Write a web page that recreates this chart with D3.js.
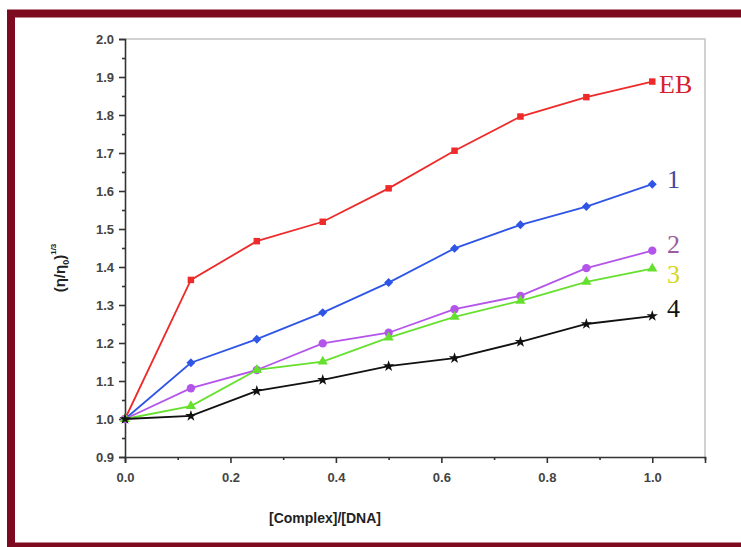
<!DOCTYPE html>
<html>
<head>
<meta charset="utf-8">
<script src="https://cdn.jsdelivr.net/npm/d3@7/dist/d3.min.js"></script>
<style>
  body { margin: 0; background: #fff; }
</style>
</head>
<body>
<div id="chart"></div>
<script>
// data
const ratio = [0, 0.125, 0.25, 0.375, 0.5, 0.625, 0.75, 0.875, 1.0]
const ebValues = [1.0, 1.366, 1.468, 1.519, 1.607, 1.706, 1.796, 1.847, 1.888]
const c1Values = [1.0, 1.148, 1.210, 1.280, 1.359, 1.449, 1.511, 1.559, 1.618]
const c2Values = [1.0, 1.081, 1.129, 1.199, 1.227, 1.289, 1.324, 1.397, 1.443]
const c3Values = [1.0, 1.034, 1.129, 1.151, 1.214, 1.269, 1.311, 1.361, 1.396]
const c4Values = [1.0, 1.008, 1.074, 1.103, 1.139, 1.160, 1.203, 1.250, 1.271]
const seriesNames = ['EB', '1', '2', '3', '4']
const yTicks = [0.9, 1.0, 1.1, 1.2, 1.3, 1.4, 1.5, 1.6, 1.7, 1.8, 1.9, 2.0]
const xTicks = [0.0, 0.2, 0.4, 0.6, 0.8, 1.0]

const series = [
  { name: seriesNames[0], values: ebValues, color: '#ee2a2a', label: '#d4202e', symbol: d3.symbolSquare, size: 42, rot: 0 },
  { name: seriesNames[1], values: c1Values, color: '#2f55e6', label: '#3d4aa0', symbol: d3.symbolSquare, size: 40, rot: 45 },
  { name: seriesNames[2], values: c2Values, color: '#b455ea', label: '#9a5c9e', symbol: d3.symbolCircle, size: 55, rot: 0 },
  { name: seriesNames[3], values: c3Values, color: '#66e02e', label: '#d6d624', symbol: d3.symbolTriangle, size: 45, rot: 0 },
  { name: seriesNames[4], values: c4Values, color: '#111111', label: '#111111', symbol: d3.symbolStar, size: 40, rot: 0 }
]

const width = 741, height = 547
const plot = { left: 125, right: 705, top: 39, bottom: 457 }

const svg = d3.select('#chart')
  .append('svg')
  .attr('width', width)
  .attr('height', height)

// dark red frame
svg.append('rect')
  .attr('x', 11).attr('y', 13.5)
  .attr('width', 800).attr('height', 533)
  .attr('fill', '#fff')
  .attr('stroke', '#7d0a1e')
  .attr('stroke-width', 8)

const x = d3.scaleLinear().domain([0, 1.1]).range([plot.left, plot.right])
const y = d3.scaleLinear().domain([0.9, 2.0]).range([plot.bottom, plot.top])

// light box on top and right
svg.append('path')
  .attr('d', `M${plot.left},${plot.top}H${plot.right}V${plot.bottom}`)
  .attr('fill', 'none')
  .attr('stroke', '#c4c4c4')
  .attr('stroke-width', 1.5)

// y axis
const yAxis = svg.append('g')
  .attr('transform', `translate(${plot.left},0)`)
  .call(d3.axisLeft(y).tickValues(yTicks).tickFormat(d3.format('.1f')).tickSize(6))
svg.append('g')
  .attr('transform', `translate(${plot.left},0)`)
  .call(d3.axisLeft(y).tickValues(d3.range(0, 11).map(i => 0.95 + i * 0.1)).tickFormat('').tickSize(3))
  .call(g => g.select('.domain').remove())

// x axis
const xAxis = svg.append('g')
  .attr('transform', `translate(0,${plot.bottom})`)
  .call(d3.axisBottom(x).tickValues(xTicks).tickFormat(d3.format('.1f')).tickSize(6))
svg.append('g')
  .attr('transform', `translate(0,${plot.bottom})`)
  .call(d3.axisBottom(x).tickValues([0.1, 0.3, 0.5, 0.7, 0.9, 1.1]).tickFormat('').tickSize(3))
  .call(g => g.select('.domain').remove())

svg.selectAll('.domain, .tick line')
  .attr('stroke', '#333')
  .attr('stroke-width', 1.6)
svg.selectAll('.tick text')
  .attr('fill', '#444')
  .attr('font-family', 'Liberation Sans, Arial, sans-serif')
  .attr('font-weight', 'bold')
  .attr('font-size', 13)
xAxis.selectAll('.tick text').attr('dy', '1.2em')
yAxis.selectAll('.tick text').attr('dx', '-0.15em')

// axis titles
svg.append('text')
  .attr('x', (plot.left + plot.right) / 2 - 90)
  .attr('y', 523)
  .attr('text-anchor', 'middle')
  .attr('font-family', 'Liberation Sans, Arial, sans-serif')
  .attr('font-weight', 'bold')
  .attr('font-size', 14)
  .attr('fill', '#222')
  .text('[Complex]/[DNA]')

const yTitle = svg.append('text')
  .attr('transform', 'translate(65,268) rotate(-90)')
  .attr('text-anchor', 'middle')
  .attr('font-family', 'Liberation Sans, Arial, sans-serif')
  .attr('font-weight', 'bold')
  .attr('font-size', 15)
  .attr('fill', '#222')
yTitle.append('tspan').text('(η/η')
yTitle.append('tspan').attr('font-size', 9).attr('dy', 4).text('0')
yTitle.append('tspan').attr('dy', -4).text(')')
yTitle.append('tspan').attr('font-size', 8).attr('dy', -9).text('1/3')

// lines and markers
const line = d3.line()
  .x((d, i) => x(ratio[i]))
  .y(d => y(d))

series.forEach(s => {
  svg.append('path')
    .datum(s.values)
    .attr('d', line)
    .attr('fill', 'none')
    .attr('stroke', s.color)
    .attr('stroke-width', 1.8)

  svg.append('g')
    .selectAll('path')
    .data(s.values)
    .enter()
    .append('path')
    .attr('transform', (d, i) => `translate(${x(ratio[i])},${y(d)}) rotate(${s.rot})`)
    .attr('d', d3.symbol().type(s.symbol).size(s.size))
    .attr('fill', s.color)
})

// end labels
const labelY = [93, 188, 253, 283, 317]
svg.append('g')
  .selectAll('text')
  .data(series)
  .enter()
  .append('text')
  .attr('x', (d, i) => i === 0 ? 659 : 667)
  .attr('y', (d, i) => labelY[i])
  .attr('font-family', 'Liberation Serif, Times New Roman, serif')
  .attr('font-size', 26)
  .attr('fill', d => d.label)
  .text(d => d.name)
</script>
</body>
</html>
